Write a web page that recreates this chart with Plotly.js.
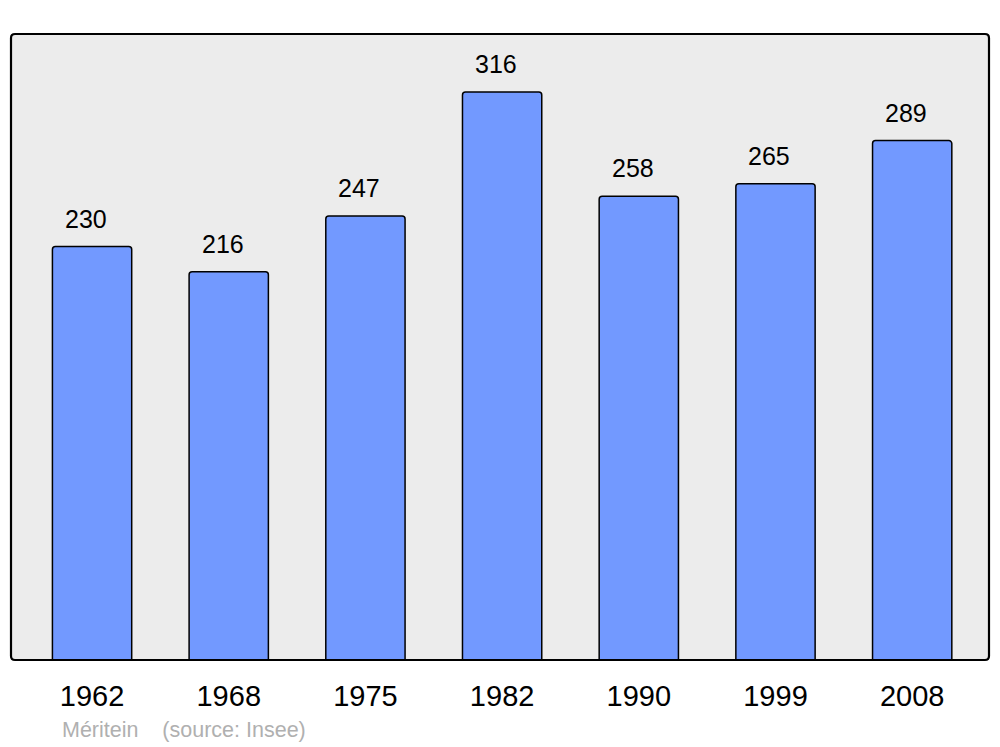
<!DOCTYPE html>
<html>
<head>
<meta charset="utf-8">
<script src="https://cdn.plot.ly/plotly-3.0.1.min.js"></script>
<style>html,body{margin:0;padding:0;background:#fff;}#chart{width:1000px;height:747px;}</style>
</head>
<body>
<div id="chart"></div>
<script>
const years = ["1962", "1968", "1975", "1982", "1990", "1999", "2008"];
const population = [230, 216, 247, 316, 258, 265, 289];
const sourceText = "Méritein    (source: Insee)";

const W = 1000, H = 747;
const L = 11, R = 11, T = 34, B = 87;
const pw = W - L - R, ph = H - T - B;
const rx = 4 / pw, ry = 4 / ph;
const borderPath = `M ${rx},0 L ${1-rx},0 Q 1,0 1,${ry} L 1,${1-ry} Q 1,1 ${1-rx},1 L ${rx},1 Q 0,1 0,${1-ry} L 0,${ry} Q 0,0 ${rx},0 Z`;

const trace = {
  type: 'bar',
  x: years,
  y: population,
  width: 0.58,
  marker: {color: '#7299FF', line: {color: '#000', width: 1.5}, cornerradius: 3},
  hoverinfo: 'none'
};

const annotations = population.map((v, i) => ({
  x: i, y: v, xref: 'x', yref: 'y',
  text: String(v), showarrow: false,
  xanchor: 'center', yanchor: 'middle', yshift: 28, xshift: -6,
  font: {family: 'Liberation Sans, Arial, sans-serif', size: 25, color: '#000'}
}));
annotations.push({
  xref: 'paper', yref: 'paper', x: (60 - L) / pw, y: -(730 - (T + ph)) / ph,
  xanchor: 'left', yanchor: 'middle', showarrow: false,
  text: sourceText,
  font: {family: 'Liberation Sans, Arial, sans-serif', size: 21.5, color: '#B0B0B0'}
});

const layout = {
  width: W, height: H,
  margin: {l: L, r: R, t: T, b: B, pad: 0},
  paper_bgcolor: '#ffffff',
  plot_bgcolor: '#ECECEC',
  showlegend: false,
  xaxis: {
    type: 'category',
    range: [-0.593, 6.562],
    showgrid: false, zeroline: false, showline: false,
    ticks: 'outside', ticklen: 10, tickcolor: 'rgba(0,0,0,0)',
    tickfont: {family: 'Liberation Sans, Arial, sans-serif', size: 29, color: '#000'}
  },
  yaxis: {
    range: [0, 348.3],
    showgrid: false, zeroline: false, showline: false, showticklabels: false, ticks: ''
  },
  shapes: [{type: 'path', xref: 'paper', yref: 'paper', path: borderPath,
    line: {color: '#000', width: 2.2}, fillcolor: 'rgba(0,0,0,0)', layer: 'above'}],
  annotations: annotations
};

Plotly.newPlot('chart', [trace], layout, {staticPlot: true});
</script>
</body>
</html>
